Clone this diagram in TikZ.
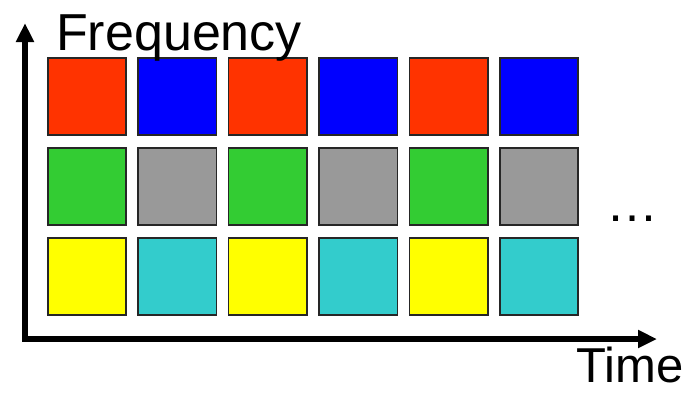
\documentclass[tikz,border=0pt]{standalone}
\usepackage{fontspec}
\setmainfont{Liberation Sans}
\usetikzlibrary{arrows.meta}

\definecolor{cellred}{HTML}{FF3300}
\definecolor{cellblue}{HTML}{0000FF}
\definecolor{cellgreen}{HTML}{33CC33}
\definecolor{cellgray}{HTML}{999999}
\definecolor{cellyellow}{HTML}{FFFF00}
\definecolor{cellcyan}{HTML}{33CCCC}

\begin{document}
\begin{tikzpicture}[
    x=1pt, y=-1pt,
    cell/.style={draw=black!85, line width=1.6pt, minimum width=78.5pt, minimum height=77.5pt, inner sep=0pt},
    axis/.style={-{Triangle[length=19pt, width=17pt]}, line width=6pt},
    label/.style={inner sep=0pt, font=\fontsize{52}{60}\selectfont}]
\useasboundingbox (0,0) rectangle (693,392);
% grid of time-frequency cells
\foreach \c in {0,...,5} {
  \pgfmathtruncatemacro{\odd}{mod(\c,2)}
  \ifnum\odd=0
    \node[cell, fill=cellred] (cell-1-\c) at (87+90.4*\c, 96.5) {};
    \node[cell, fill=cellgreen] (cell-2-\c) at (87+90.4*\c, 186.5) {};
    \node[cell, fill=cellyellow] (cell-3-\c) at (87+90.4*\c, 276.5) {};
  \else
    \node[cell, fill=cellblue] (cell-1-\c) at (87+90.4*\c, 96.5) {};
    \node[cell, fill=cellgray] (cell-2-\c) at (87+90.4*\c, 186.5) {};
    \node[cell, fill=cellcyan] (cell-3-\c) at (87+90.4*\c, 276.5) {};
  \fi
}
% axes
\coordinate (origin) at (25,339);
\coordinate (ftip) at (25,23);
\coordinate (ttip) at (657,339);
\draw[axis, line cap=rect] (origin) -- (ftip);
\draw[axis, line cap=rect] (origin) -- (ttip);
% labels
\node[label, anchor=base west] (freq) at (56,50) {Frequency};
\node[label, anchor=base west, font=\fontsize{49}{56}\selectfont] (time) at (576,382) {Time};
\node[label, anchor=base west] (dots) at (606,221) {…};
\end{tikzpicture}
\end{document}
